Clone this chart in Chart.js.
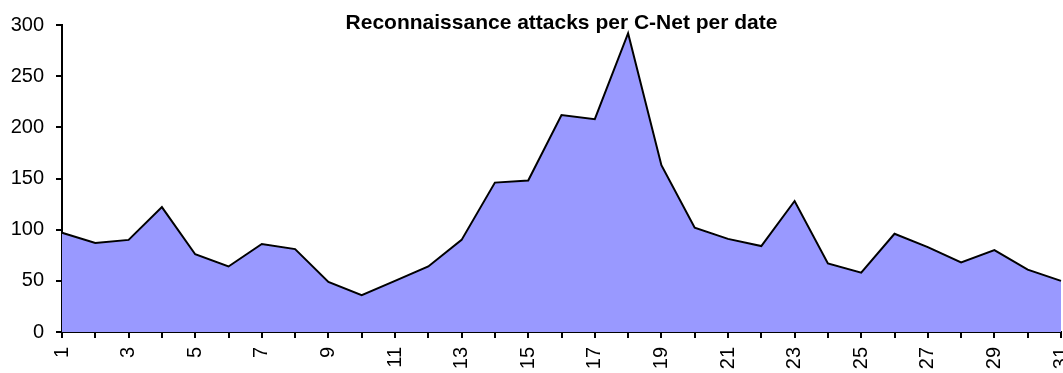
<!DOCTYPE html>
<html>
<head>
<meta charset="utf-8">
<script src="https://cdn.jsdelivr.net/npm/chart.js@4"></script>
<style>
  html, body { margin: 0; padding: 0; background: #fff; }
  #wrap { width: 1063px; height: 373px; position: relative; }
</style>
</head>
<body>
<div id="wrap"><canvas id="c"></canvas></div>
<script>
// Days of the month
const days = ['1','2','3','4','5','6','7','8','9','10','11','12','13','14','15','16',
              '17','18','19','20','21','22','23','24','25','26','27','28','29','30','31'];
// Reconnaissance attacks counted per day
const attacks = [97, 87, 90, 122, 76, 64, 86, 81, 49, 36, 50, 64, 90, 146, 148, 212,
                 208, 292, 163, 102, 91, 84, 128, 67, 58, 96, 83, 68, 80, 61, 50];
// Value axis ticks
const yTicks = [0, 50, 100, 150, 200, 250, 300];
const chartTitle = 'Reconnaissance attacks per C-Net per date';

const FONT = '"Liberation Sans", Arial, Helvetica, sans-serif';

// Title drawn centred over the plotting area
const titlePlugin = {
  id: 'plotTitle',
  afterDraw(chart) {
    const { ctx, chartArea } = chart;
    ctx.save();
    ctx.font = 'bold 21px ' + FONT;
    ctx.fillStyle = '#000';
    ctx.textAlign = 'center';
    ctx.textBaseline = 'alphabetic';
    ctx.fillText(chartTitle, (chartArea.left + chartArea.right) / 2, 29);
    ctx.restore();
  }
};

new Chart(document.getElementById('c'), {
  type: 'line',
  data: {
    labels: days,
    datasets: [{
      data: attacks,
      fill: 'origin',
      backgroundColor: '#9999ff',
      borderColor: '#000',
      borderWidth: 2,
      pointRadius: 0,
      tension: 0
    }]
  },
  options: {
    responsive: true,
    maintainAspectRatio: false,
    animation: false,
    layout: { padding: { top: 25, right: 2, left: 0, bottom: 0 } },
    plugins: {
      legend: { display: false },
      title: { display: false },
      tooltip: { enabled: false }
    },
    scales: {
      x: {
        type: 'category',
        offset: false,
        afterFit(scale) {
          scale.height = 41;
          scale.paddingLeft = 0;
          scale.paddingRight = 0;
        },
        border: { display: true, color: '#000', width: 2 },
        grid: { drawOnChartArea: false, drawTicks: true, tickLength: 6, color: '#000', lineWidth: 2 },
        ticks: {
          autoSkip: false,
          minRotation: 90,
          maxRotation: 90,
          padding: 9,
          color: '#000',
          font: { family: FONT, size: 20 },
          callback(value, index) { return index % 2 === 0 ? days[index] : ''; }
        }
      },
      y: {
        min: 0,
        max: 300,
        afterFit(scale) {
          scale.width = 62;
          scale.paddingTop = 0;
          scale.paddingBottom = 0;
        },
        afterBuildTicks(scale) { scale.ticks = yTicks.map(v => ({ value: v })); },
        border: { display: true, color: '#000', width: 2 },
        grid: { drawOnChartArea: false, drawTicks: true, tickLength: 6, color: '#000', lineWidth: 2 },
        ticks: {
          padding: 12,
          color: '#000',
          font: { family: FONT, size: 20 }
        }
      }
    }
  },
  plugins: [titlePlugin]
});
</script>
</body>
</html>
